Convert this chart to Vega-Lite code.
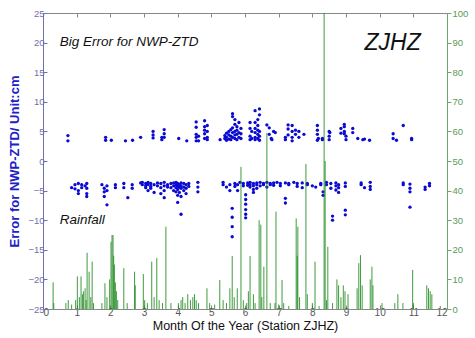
{
  "$schema": "https://vega.github.io/schema/vega-lite/v6.json",
  "width": 404,
  "height": 296,
  "autosize": {"type": "none"},
  "padding": {"left": 43, "top": 13, "right": 28, "bottom": 29},
  "background": "white",
  "config": {
    "view": {"stroke": null},
    "font": "Liberation Sans",
    "axis": {"grid": false, "labelFont": "Liberation Sans", "titleFont": "Liberation Sans"}
  },
  "datasets": {
    "errors": [
      {"month":0.74,"err":4.3},{"month":0.74,"err":3.4},
      {"month":1.86,"err":4.0},{"month":1.86,"err":3.5},{"month":2.03,"err":3.5},
      {"month":2.45,"err":3.4},{"month":2.66,"err":3.5},{"month":2.9,"err":4.0},
      {"month":3.27,"err":5.0},{"month":3.27,"err":4.4},{"month":3.27,"err":3.9},
      {"month":3.53,"err":3.6},{"month":3.53,"err":4.0},
      {"month":3.6,"err":4.6},{"month":3.6,"err":5.3},{"month":3.6,"err":4.0},
      {"month":4.03,"err":3.8},{"month":4.27,"err":3.4},
      {"month":4.55,"err":6.6},{"month":4.55,"err":5.7},{"month":4.55,"err":4.5},{"month":4.55,"err":4.0},{"month":4.55,"err":3.4},
      {"month":4.62,"err":3.4},{"month":4.62,"err":4.2},
      {"month":4.8,"err":6.8},{"month":4.8,"err":5.8},{"month":4.8,"err":5.2},{"month":4.8,"err":4.6},{"month":4.8,"err":3.8},
      {"month":4.88,"err":6.0},{"month":4.88,"err":5.0},{"month":4.88,"err":4.0},{"month":4.88,"err":3.6},
      {"month":5.26,"err":3.6},
      {"month":5.4,"err":4.3},{"month":5.4,"err":3.8},
      {"month":5.45,"err":4.7},{"month":5.45,"err":4.0},{"month":5.45,"err":3.5},
      {"month":5.52,"err":5.0},{"month":5.52,"err":4.4},{"month":5.52,"err":3.7},
      {"month":5.58,"err":5.3},{"month":5.58,"err":4.2},{"month":5.58,"err":3.6},
      {"month":5.63,"err":8.0},{"month":5.63,"err":7.5},{"month":5.63,"err":5.6},{"month":5.63,"err":4.8},{"month":5.63,"err":4.0},
      {"month":5.7,"err":7.0},{"month":5.7,"err":6.2},{"month":5.7,"err":5.0},{"month":5.7,"err":4.4},{"month":5.7,"err":3.8},
      {"month":5.76,"err":5.8},{"month":5.76,"err":5.2},{"month":5.76,"err":4.5},{"month":5.76,"err":3.6},
      {"month":5.82,"err":6.5},{"month":5.82,"err":4.8},{"month":5.82,"err":4.0},
      {"month":5.88,"err":5.5},{"month":5.88,"err":4.6},{"month":5.88,"err":3.8},
      {"month":6.15,"err":6.5},{"month":6.15,"err":5.5},{"month":6.15,"err":4.2},{"month":6.15,"err":3.6},
      {"month":6.2,"err":5.0},{"month":6.2,"err":3.8},
      {"month":6.3,"err":8.5},{"month":6.3,"err":6.5},{"month":6.3,"err":5.5},{"month":6.3,"err":4.8},{"month":6.3,"err":4.0},{"month":6.3,"err":3.6},
      {"month":6.38,"err":7.0},{"month":6.38,"err":6.0},{"month":6.38,"err":5.2},{"month":6.38,"err":4.5},{"month":6.38,"err":3.8},
      {"month":6.43,"err":8.8},{"month":6.43,"err":7.8},{"month":6.43,"err":5.0},{"month":6.43,"err":4.2},{"month":6.43,"err":3.5},
      {"month":6.65,"err":6.1},
      {"month":6.72,"err":5.6},{"month":6.72,"err":4.5},{"month":6.78,"err":3.8},{"month":6.8,"err":3.6},{"month":6.85,"err":5.0},{"month":6.9,"err":4.8},
      {"month":7.2,"err":3.6},{"month":7.2,"err":4.0},
      {"month":7.28,"err":6.1},{"month":7.28,"err":5.4},{"month":7.28,"err":4.4},
      {"month":7.4,"err":6.0},{"month":7.4,"err":5.0},{"month":7.4,"err":4.0},{"month":7.4,"err":3.4},
      {"month":7.5,"err":5.2},{"month":7.5,"err":4.5},
      {"month":7.6,"err":5.0},{"month":7.6,"err":4.0},{"month":7.75,"err":4.5},
      {"month":8.15,"err":6.0},{"month":8.15,"err":5.2},{"month":8.15,"err":4.5},{"month":8.15,"err":3.5},{"month":8.18,"err":3.8},
      {"month":8.3,"err":3.8},{"month":8.3,"err":3.6},
      {"month":8.5,"err":5.0},{"month":8.5,"err":4.2},{"month":8.5,"err":3.6},{"month":8.52,"err":4.8},
      {"month":8.85,"err":5.5},{"month":8.85,"err":4.7},
      {"month":8.95,"err":6.2},{"month":8.95,"err":5.8},{"month":8.95,"err":5.0},{"month":8.95,"err":4.6},
      {"month":9.0,"err":4.2},{"month":9.0,"err":3.6},
      {"month":9.2,"err":5.5},{"month":9.2,"err":4.8},{"month":9.35,"err":3.8},
      {"month":9.5,"err":3.6},{"month":9.55,"err":3.7},{"month":9.7,"err":3.5},
      {"month":10.4,"err":4.6},{"month":10.4,"err":3.8},{"month":10.5,"err":3.5},
      {"month":10.7,"err":6.0},{"month":10.95,"err":3.6},{"month":10.95,"err":3.8},

      {"month":0.85,"err":-4.5},{"month":0.95,"err":-4.0},{"month":0.95,"err":-4.7},
      {"month":1.05,"err":-3.8},{"month":1.05,"err":-5.0},{"month":1.05,"err":-5.5},
      {"month":1.15,"err":-4.5},{"month":1.15,"err":-4.0},{"month":1.25,"err":-4.2},
      {"month":1.3,"err":-3.8},{"month":1.3,"err":-4.6},{"month":1.3,"err":-5.5},{"month":1.3,"err":-6.0},
      {"month":1.75,"err":-4.0},{"month":1.82,"err":-4.6},{"month":1.82,"err":-5.2},{"month":1.82,"err":-6.0},
      {"month":1.9,"err":-4.2},{"month":1.9,"err":-5.0},{"month":1.9,"err":-7.4},
      {"month":2.15,"err":-4.0},{"month":2.15,"err":-4.5},
      {"month":2.4,"err":-3.8},{"month":2.4,"err":-4.5},{"month":2.52,"err":-6.2},
      {"month":2.65,"err":-4.0},{"month":2.65,"err":-4.6},
      {"month":2.9,"err":-3.7},{"month":2.95,"err":-3.6},{"month":2.95,"err":-4.0},
      {"month":3.05,"err":-3.8},{"month":3.05,"err":-4.2},{"month":3.05,"err":-4.5},
      {"month":3.12,"err":-3.6},{"month":3.12,"err":-4.0},{"month":3.12,"err":-5.0},
      {"month":3.2,"err":-3.8},{"month":3.2,"err":-4.3},{"month":3.2,"err":-4.6},
      {"month":3.3,"err":-4.0},{"month":3.3,"err":-5.3},
      {"month":3.4,"err":-3.7},{"month":3.4,"err":-4.2},
      {"month":3.5,"err":-3.8},{"month":3.5,"err":-4.5},{"month":3.5,"err":-5.5},
      {"month":3.6,"err":-3.6},{"month":3.6,"err":-4.2},{"month":3.6,"err":-5.0},{"month":3.6,"err":-6.2},
      {"month":3.7,"err":-4.0},{"month":3.7,"err":-4.4},
      {"month":3.8,"err":-3.8},{"month":3.8,"err":-4.5},
      {"month":3.88,"err":-3.7},{"month":3.88,"err":-4.2},{"month":3.88,"err":-5.0},
      {"month":3.95,"err":-3.6},{"month":3.95,"err":-4.0},{"month":3.95,"err":-4.5},{"month":3.95,"err":-5.2},
      {"month":4.0,"err":-3.8},{"month":4.0,"err":-4.3},{"month":4.0,"err":-4.8},{"month":4.0,"err":-5.8},{"month":4.0,"err":-7.0},
      {"month":4.05,"err":-4.0},{"month":4.05,"err":-4.4},{"month":4.05,"err":-5.3},
      {"month":4.1,"err":-3.7},{"month":4.1,"err":-4.2},{"month":4.1,"err":-4.6},{"month":4.1,"err":-6.0},{"month":4.1,"err":-9.0},
      {"month":4.18,"err":-3.8},{"month":4.18,"err":-4.4},{"month":4.18,"err":-5.0},
      {"month":4.25,"err":-4.0},{"month":4.25,"err":-4.6},{"month":4.25,"err":-5.5},
      {"month":4.33,"err":-3.8},{"month":4.33,"err":-4.3},
      {"month":4.6,"err":-3.6},{"month":4.6,"err":-4.4},{"month":4.6,"err":-5.2},
      {"month":5.35,"err":-3.6},{"month":5.35,"err":-4.0},{"month":5.45,"err":-4.4},
      {"month":5.55,"err":-4.0},{"month":5.55,"err":-5.0},
      {"month":5.62,"err":-8.0},{"month":5.62,"err":-9.5},{"month":5.62,"err":-11.1},{"month":5.62,"err":-12.8},
      {"month":5.7,"err":-3.8},{"month":5.7,"err":-4.3},{"month":5.78,"err":-4.0},{"month":5.78,"err":-5.0},
      {"month":5.85,"err":-3.6},{"month":5.95,"err":-3.8},{"month":5.95,"err":-4.2},
      {"month":6.02,"err":-5.7},{"month":6.02,"err":-6.5},{"month":6.02,"err":-7.3},{"month":6.02,"err":-8.2},{"month":6.02,"err":-9.0},{"month":6.02,"err":-9.6},
      {"month":6.08,"err":-3.7},{"month":6.08,"err":-4.1},
      {"month":6.15,"err":-3.6},{"month":6.15,"err":-4.0},{"month":6.15,"err":-4.4},
      {"month":6.25,"err":-3.8},{"month":6.25,"err":-4.2},{"month":6.25,"err":-4.8},{"month":6.25,"err":-5.3},
      {"month":6.35,"err":-3.7},{"month":6.35,"err":-4.0},{"month":6.35,"err":-4.6},
      {"month":6.45,"err":-3.6},{"month":6.45,"err":-4.2},
      {"month":6.55,"err":-3.8},{"month":6.55,"err":-4.0},
      {"month":6.65,"err":-3.6},{"month":6.65,"err":-4.4},
      {"month":6.75,"err":-3.8},{"month":6.75,"err":-4.0},
      {"month":6.85,"err":-3.7},{"month":6.85,"err":-4.1},{"month":6.95,"err":-3.6},
      {"month":7.05,"err":-3.8},{"month":7.05,"err":-4.2},
      {"month":7.2,"err":-3.7},{"month":7.2,"err":-6.3},{"month":7.2,"err":-7.1},
      {"month":7.3,"err":-3.8},{"month":7.3,"err":-4.0},{"month":7.45,"err":-3.6},
      {"month":7.55,"err":-3.8},{"month":7.55,"err":-4.3},
      {"month":7.7,"err":-3.7},{"month":7.7,"err":-4.5},
      {"month":7.85,"err":-3.8},{"month":7.85,"err":-4.0},
      {"month":8.0,"err":-4.2},{"month":8.1,"err":-4.4},
      {"month":8.25,"err":-3.8},{"month":8.25,"err":-4.0},
      {"month":8.32,"err":-5.2},{"month":8.32,"err":-5.8},
      {"month":8.42,"err":-3.6},{"month":8.42,"err":-4.0},
      {"month":8.55,"err":-3.8},{"month":8.55,"err":-4.6},
      {"month":8.6,"err":-9.3},{"month":8.6,"err":-10.0},
      {"month":8.7,"err":-3.7},{"month":8.7,"err":-4.2},{"month":8.7,"err":-4.9},
      {"month":8.78,"err":-4.0},{"month":8.78,"err":-4.5},{"month":8.78,"err":-5.3},
      {"month":8.98,"err":-3.7},{"month":8.98,"err":-4.3},{"month":8.98,"err":-8.3},{"month":8.98,"err":-9.1},
      {"month":9.45,"err":-3.7},{"month":9.45,"err":-4.0},{"month":9.55,"err":-4.5},
      {"month":9.72,"err":-3.6},{"month":9.72,"err":-4.3},{"month":9.72,"err":-4.8},
      {"month":10.7,"err":-3.7},{"month":10.7,"err":-4.0},
      {"month":10.9,"err":-3.9},{"month":10.9,"err":-4.6},{"month":10.9,"err":-5.2},{"month":10.9,"err":-7.8},
      {"month":11.35,"err":-4.4},{"month":11.35,"err":-4.8},
      {"month":11.48,"err":-3.8},{"month":11.48,"err":-4.2}
    ],
    "rain": [
      {"month":0.3,"rain":9},{"month":0.32,"rain":2},{"month":0.68,"rain":2},{"month":0.75,"rain":3},{"month":0.85,"rain":1.5},
      {"month":0.97,"rain":3},{"month":1.02,"rain":11},{"month":1.08,"rain":4},{"month":1.13,"rain":11},{"month":1.17,"rain":5},
      {"month":1.2,"rain":6},{"month":1.25,"rain":7},{"month":1.28,"rain":3},{"month":1.31,"rain":19},{"month":1.37,"rain":12.6},
      {"month":1.42,"rain":4},{"month":1.46,"rain":16},{"month":1.5,"rain":2},{"month":1.75,"rain":2},{"month":1.84,"rain":8.7},
      {"month":1.9,"rain":4},{"month":1.98,"rain":10},{"month":2.02,"rain":22.7},{"month":2.05,"rain":25},{"month":2.08,"rain":25},
      {"month":2.1,"rain":18},{"month":2.12,"rain":15},{"month":2.15,"rain":9},{"month":2.18,"rain":6},{"month":2.22,"rain":3},
      {"month":2.4,"rain":13.8},{"month":2.5,"rain":2},{"month":2.72,"rain":12.6},{"month":2.74,"rain":8},{"month":2.98,"rain":11.8},
      {"month":3.02,"rain":3},{"month":3.1,"rain":2},{"month":3.23,"rain":16},{"month":3.3,"rain":4},{"month":3.38,"rain":17.2},
      {"month":3.45,"rain":3},{"month":3.55,"rain":2},{"month":3.65,"rain":27.8},{"month":3.8,"rain":2},{"month":4.02,"rain":2},
      {"month":4.1,"rain":3},{"month":4.15,"rain":4},{"month":4.22,"rain":2},{"month":4.3,"rain":5},{"month":4.38,"rain":3},
      {"month":4.45,"rain":4},{"month":4.5,"rain":5},{"month":4.55,"rain":3},{"month":4.62,"rain":2},{"month":4.87,"rain":7},
      {"month":4.95,"rain":2},{"month":5.1,"rain":1.5},{"month":5.25,"rain":9.8},{"month":5.35,"rain":3},{"month":5.45,"rain":2},
      {"month":5.55,"rain":7},{"month":5.62,"rain":17.9},{"month":5.68,"rain":4},{"month":5.77,"rain":7},{"month":5.88,"rain":48},
      {"month":5.95,"rain":3},{"month":6.05,"rain":2},{"month":6.1,"rain":6},{"month":6.15,"rain":17.9},{"month":6.25,"rain":5},
      {"month":6.3,"rain":2},{"month":6.42,"rain":30},{"month":6.47,"rain":28.5},{"month":6.5,"rain":4},{"month":6.56,"rain":14.3},
      {"month":6.65,"rain":59.5},{"month":6.75,"rain":2},{"month":6.89,"rain":2},{"month":6.92,"rain":32.9},{"month":7.0,"rain":1.5},
      {"month":7.1,"rain":9.8},{"month":7.15,"rain":2},{"month":7.3,"rain":1},{"month":7.52,"rain":30.6},{"month":7.55,"rain":18},
      {"month":7.57,"rain":27.8},{"month":7.62,"rain":4},{"month":7.81,"rain":49},{"month":7.85,"rain":5},{"month":8.0,"rain":2},
      {"month":8.08,"rain":16},{"month":8.2,"rain":1},{"month":8.35,"rain":100},{"month":8.38,"rain":50},{"month":8.42,"rain":3},
      {"month":8.46,"rain":21},{"month":8.6,"rain":2},{"month":8.73,"rain":10},{"month":8.78,"rain":8},{"month":8.85,"rain":4},
      {"month":8.92,"rain":8},{"month":8.97,"rain":6},{"month":9.06,"rain":5},{"month":9.33,"rain":7},{"month":9.38,"rain":15.5},
      {"month":9.43,"rain":18.2},{"month":9.48,"rain":8},{"month":9.72,"rain":10},{"month":9.77,"rain":14.3},{"month":9.8,"rain":8},
      {"month":10.07,"rain":2},{"month":10.45,"rain":2},{"month":10.54,"rain":5},{"month":10.69,"rain":2},{"month":10.98,"rain":13.2},
      {"month":11.0,"rain":2},{"month":11.4,"rain":8},{"month":11.45,"rain":7},{"month":11.5,"rain":6},{"month":11.55,"rain":5},
      {"month":11.8,"rain":1}
    ]
  },
  "layer": [
    {
      "data": {"name": "errors"},
      "mark": {"type": "circle", "color": "#0a0ad0", "size": 11, "opacity": 1},
      "encoding": {
        "x": {"field": "month", "type": "quantitative",
          "scale": {"domain": [0, 12], "nice": false},
          "axis": {"values": [0,1,2,3,4,5,6,7,8,9,10,11,12], "title": "Month Of the Year  (Station ZJHZ)",
            "titleFontSize": 12.5, "titleFontWeight": "normal", "titleColor": "#111", "titlePadding": 2,
            "labelFontSize": 10, "labelColor": "#555", "labelPadding": 2,
            "domainColor": "#888", "tickColor": "#888", "tickSize": -4}},
        "y": {"field": "err", "type": "quantitative",
          "scale": {"domain": [-25, 25], "nice": false},
          "axis": {"values": [-25,-20,-15,-10,-5,0,5,10,15,20,25], "title": "Error for NWP-ZTD/ Unit:cm",
            "titleFontSize": 13, "titleFontWeight": "bold", "titleColor": "#2020c8", "titlePadding": 6,
            "labelFontSize": 9.5, "labelColor": "#7070a8", "labelPadding": 3,
            "domainColor": "#7070b0", "tickColor": "#7070b0", "tickSize": -4}}
      }
    },
    {
      "data": {"name": "rain"},
      "mark": {"type": "rule", "color": "#1d8a1d", "strokeWidth": 1, "opacity": 0.85},
      "encoding": {
        "x": {"field": "month", "type": "quantitative",
          "scale": {"domain": [0, 12], "nice": false},
          "axis": {"orient": "top", "values": [0,1,2,3,4,5,6,7,8,9,10,11,12], "labels": false, "title": null,
            "domainColor": "#888", "tickColor": "#888", "tickSize": -4}},
        "y": {"field": "rain", "type": "quantitative",
          "scale": {"domain": [0, 100], "nice": false},
          "axis": {"orient": "right", "values": [0,10,20,30,40,50,60,70,80,90,100], "title": "Rainfall in 6 hours / Unit:mm",
            "titleFontSize": 12.5, "titleFontWeight": "bold", "titleColor": "#1a8a1a", "titlePadding": 5,
            "labelFontSize": 9.5, "labelColor": "#5a9a5a", "labelPadding": 1,
            "domainColor": "#6aa86a", "tickColor": "#6aa86a", "tickSize": 4}},
        "y2": {"datum": 0}
      }
    },
    {
      "data": {"values": [
        {"label": "Big Error for NWP-ZTD", "month": 0.5, "err": 20.1},
        {"label": "Rainfall", "month": 0.5, "err": -10.0}
      ]},
      "mark": {"type": "text", "align": "left", "baseline": "middle", "fontSize": 13.5, "fontStyle": "italic", "color": "#111"},
      "encoding": {
        "x": {"field": "month", "type": "quantitative", "scale": {"domain": [0, 12], "nice": false}, "axis": null},
        "y": {"field": "err", "type": "quantitative", "scale": {"domain": [-25, 25], "nice": false}, "axis": null},
        "text": {"field": "label"}
      }
    },
    {
      "data": {"values": [{"label": "ZJHZ", "month": 9.55, "err": 19.9}]},
      "mark": {"type": "text", "align": "left", "baseline": "middle", "fontSize": 23, "fontStyle": "italic", "color": "#111"},
      "encoding": {
        "x": {"field": "month", "type": "quantitative", "scale": {"domain": [0, 12], "nice": false}, "axis": null},
        "y": {"field": "err", "type": "quantitative", "scale": {"domain": [-25, 25], "nice": false}, "axis": null},
        "text": {"field": "label"}
      }
    }
  ],
  "resolve": {"scale": {"y": "independent", "x": "independent"}}
}
